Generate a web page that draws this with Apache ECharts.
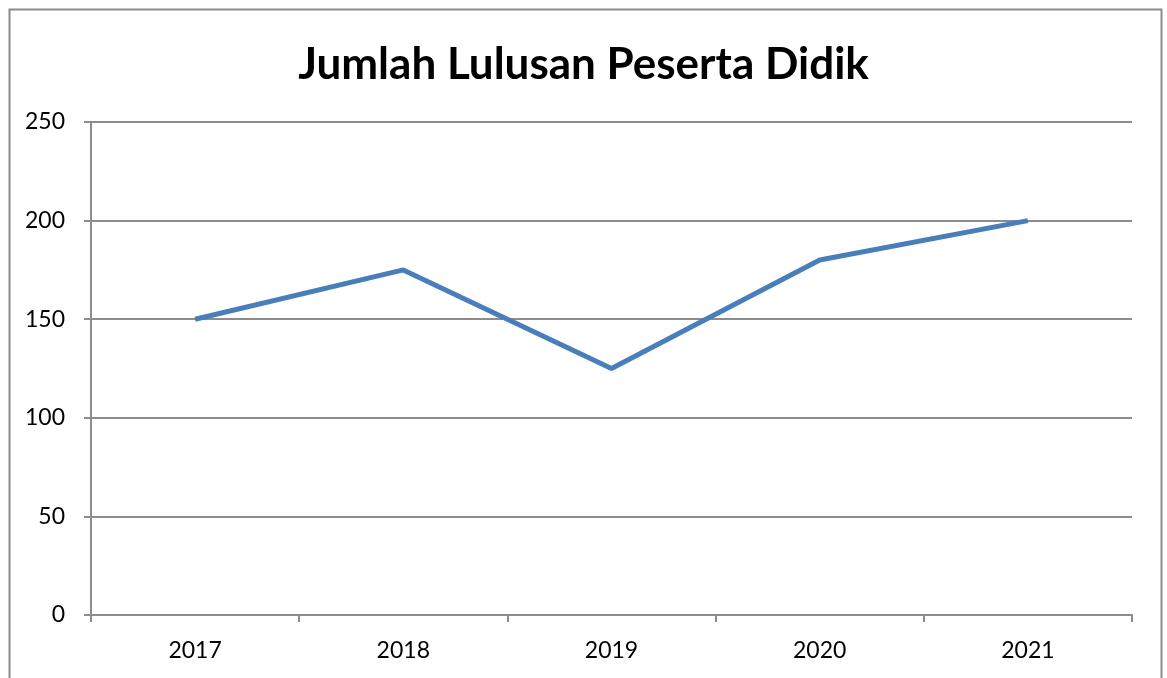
<!DOCTYPE html>
<html><head><meta charset="utf-8">
<script src="https://cdn.jsdelivr.net/npm/echarts@6/dist/echarts.min.js"></script>
<style>html,body{margin:0;padding:0;background:#fff}#c{width:1167px;height:678px}</style>
</head><body><div id="c"></div>
<script>
const titleText = 'Jumlah Lulusan Peserta Didik';
const categories = ['2017', '2018', '2019', '2020', '2021'];
const values = [150, 175, 125, 180, 200];
const chart = echarts.init(document.getElementById('c'));
const font = 'Lato, "Open Sans", sans-serif';
chart.setOption({
  animation: false,
  backgroundColor: '#fff',
  title: { text: titleText, left: 'center', top: 38, textStyle: { fontFamily: font, fontSize: 44, fontWeight: 'bold', color: '#000' } },
  graphic: [{ type: 'rect', shape: { x: 9.5, y: 9.5, width: 1152, height: 700 }, style: { fill: 'none', stroke: '#8c8c8c', lineWidth: 2 }, silent: true }],
  grid: { left: 91, right: 35, top: 122, bottom: 63, containLabel: false },
  xAxis: {
    type: 'category', data: categories, boundaryGap: true,
    axisLine: { lineStyle: { color: '#8c8c8c', width: 2 } },
    axisTick: { show: true, length: 7, alignWithLabel: false, lineStyle: { color: '#8c8c8c', width: 2 } },
    axisLabel: { color: '#000', fontFamily: font, fontSize: 23, margin: 24 }
  },
  yAxis: {
    type: 'value', min: 0, max: 250, interval: 50,
    axisLine: { show: true, lineStyle: { color: '#8c8c8c', width: 2 } },
    axisTick: { show: true, length: 7, lineStyle: { color: '#8c8c8c', width: 2 } },
    splitLine: { lineStyle: { color: '#8c8c8c', width: 2 } },
    axisLabel: { color: '#000', fontFamily: font, fontSize: 23, margin: 26 }
  },
  series: [{ type: 'line', data: values, showSymbol: false, symbol: 'none', lineStyle: { color: '#4a7ebb', width: 5 }, itemStyle: { color: '#4a7ebb' } }]
});
</script></body></html>
